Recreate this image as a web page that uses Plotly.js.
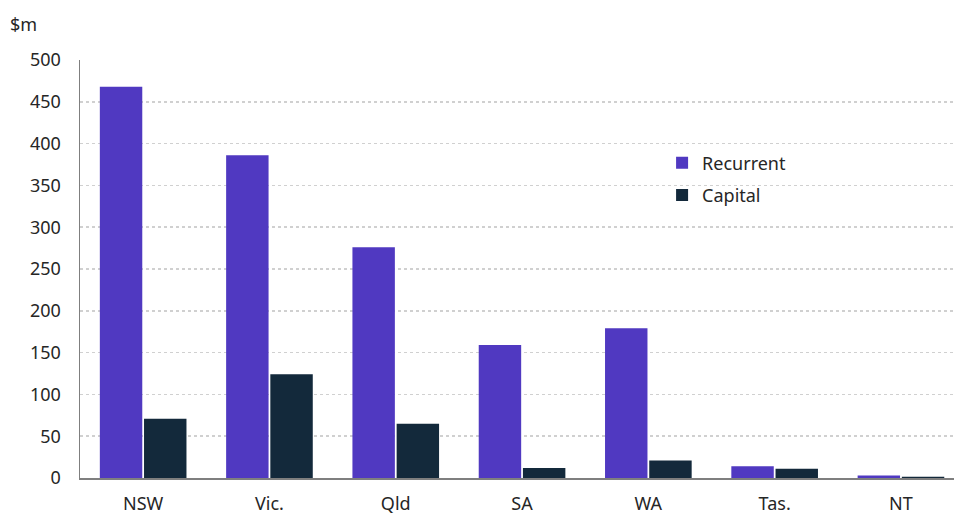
<!DOCTYPE html>
<html>
<head>
<meta charset="utf-8">
<script src="https://cdn.plot.ly/plotly-3.0.1.min.js"></script>
<style>html,body{margin:0;padding:0;background:#fff}#chart{width:954px;height:515px}</style>
</head>
<body>
<div id="chart"></div>
<script>
const categories = ["NSW", "Vic.", "Qld", "SA", "WA", "Tas.", "NT"];
const recurrent = [468, 386, 276, 159, 179, 14, 3];
const capital = [71, 124, 65, 12, 21, 11, 1.6];
const yTicks = [0, 50, 100, 150, 200, 250, 300, 350, 400, 450, 500];

const font = {family: "Noto Sans, Lato, sans-serif", size: 18, color: "#262626"};

const traces = [
  {type: "bar", name: "Recurrent", x: categories, y: recurrent, legendgroup: "r",
   marker: {color: "#5039c1"}},
  {type: "bar", name: "Capital", x: categories, y: capital, legendgroup: "c",
   marker: {color: "#13293b"}}
];

const layout = {
  width: 954, height: 515,
  margin: {l: 80, r: 0, t: 60, b: 37},
  paper_bgcolor: "#fff", plot_bgcolor: "#fff",
  font: font,
  barmode: "group", bargap: 0.3, bargroupgap: 0.04,
  showlegend: true,
  legend: {x: 0.666, y: 0.798, xanchor: "left", yanchor: "top", font: font,
           bgcolor: "rgba(0,0,0,0)", itemwidth: 30, tracegroupgap: 6},
  xaxis: {range: [-0.5, 6.42], showline: true, linecolor: "#7f7f7f", linewidth: 2,
          showgrid: false, ticks: "", tickfont: font, ticklabelstandoff: 8, zeroline: false},
  yaxis: {range: [0, 500], tickvals: yTicks, showline: true, linecolor: "#7f7f7f", linewidth: 1.5,
          showgrid: true, gridcolor: "#d0d0d0", griddash: "dot", gridwidth: 1.5,
          ticks: "", tickfont: font, ticklabelstandoff: 14, zeroline: false},
  annotations: [{text: "$m", xref: "paper", yref: "paper", x: -0.082, y: 1.0, yshift: 36,
                 xanchor: "left", yanchor: "middle", showarrow: false, font: font}]
};

Plotly.newPlot("chart", traces, layout, {displayModeBar: false, staticPlot: true});
</script>
</body>
</html>
